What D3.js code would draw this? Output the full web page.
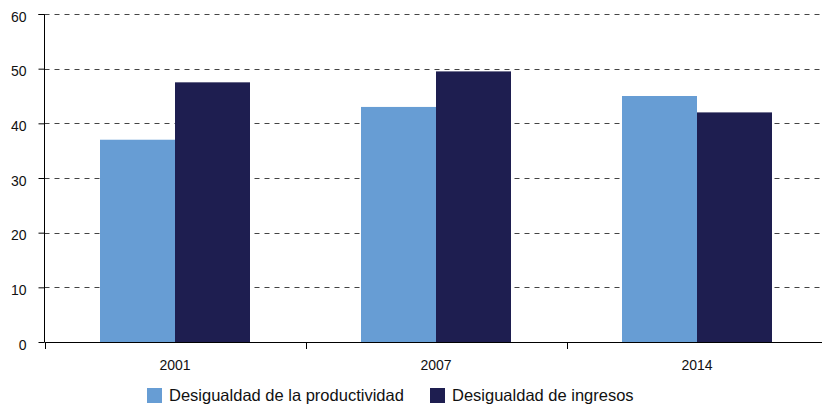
<!DOCTYPE html>
<html>
<head>
<meta charset="utf-8">
<script src="https://cdn.jsdelivr.net/npm/d3@7"></script>
<style>
  body { margin: 0; background: #fff; }
  text { font-family: "Liberation Sans", Arial, sans-serif; fill: #111; }
</style>
</head>
<body>
<svg id="chart"></svg>
<script>
// datos
const years = ['2001', '2007', '2014'];
const seriesNames = ['Desigualdad de la productividad', 'Desigualdad de ingresos'];
const productividad = [37, 43, 45];
const ingresos = [47.5, 49.5, 42];
const yTicks = [0, 10, 20, 30, 40, 50, 60];
const colors = ['#679dd4', '#1e1e50'];

const width = 822, height = 405;
const marginLeft = 44.5, plotTop = 14, plotBottom = 342;
const bandW = 261;

const svg = d3.select('#chart')
  .attr('width', width)
  .attr('height', height);

const x = d3.scaleBand()
  .domain(years)
  .range([marginLeft, marginLeft + bandW * years.length]);

const y = d3.scaleLinear()
  .domain([0, 60])
  .range([plotBottom, plotTop]);

// lineas de cuadricula
svg.append('g')
  .selectAll('line')
  .data(yTicks.filter(d => d > 0))
  .enter().append('line')
  .attr('x1', marginLeft)
  .attr('x2', width)
  .attr('y1', d => Math.round(y(d)) + 0.5)
  .attr('y2', d => Math.round(y(d)) + 0.5)
  .attr('stroke', '#444')
  .attr('stroke-width', 1)
  .attr('stroke-dasharray', '5,5');

// barras
const barW = 75;
const series = [productividad, ingresos];
series.forEach((vals, i) => {
  svg.append('g')
    .selectAll('rect')
    .data(vals)
    .enter().append('rect')
    .attr('x', (d, j) => x(years[j]) + x.bandwidth() / 2 - barW + i * barW)
    .attr('width', barW)
    .attr('y', d => y(d))
    .attr('height', d => plotBottom - y(d))
    .attr('fill', colors[i]);
});

// eje y
const yAxis = svg.append('g')
  .attr('transform', `translate(${marginLeft},0)`)
  .call(d3.axisLeft(y).tickValues(yTicks).tickSize(6).tickPadding(12).tickFormat(d3.format('d')));
yAxis.select('.domain').attr('stroke', '#000').attr('d', `M-6,${plotTop + 0.5}H0V${plotBottom}`);
yAxis.selectAll('text').style('font-size', '14px').attr('dy', '0.5em');

// eje x
const xAxis = svg.append('g')
  .attr('transform', `translate(0,${plotBottom + 0.5})`)
  .call(d3.axisBottom(x).tickSize(0).tickPadding(20));
xAxis.select('.domain').remove();
xAxis.selectAll('text').style('font-size', '14px').attr('dy', '0.5em');
svg.append('line')
  .attr('x1', marginLeft).attr('x2', width)
  .attr('y1', plotBottom + 0.5).attr('y2', plotBottom + 0.5)
  .attr('stroke', '#000');
svg.append('g')
  .selectAll('line')
  .data(years)
  .enter().append('line')
  .attr('x1', d => Math.round(x(d)) + 0.5)
  .attr('x2', d => Math.round(x(d)) + 0.5)
  .attr('y1', plotBottom)
  .attr('y2', plotBottom + 7)
  .attr('stroke', '#000');

// leyenda
const legendX = [147, 430];
const legend = svg.append('g')
  .selectAll('g')
  .data(seriesNames)
  .enter().append('g')
  .attr('transform', (d, i) => `translate(${legendX[i]},388)`);
legend.append('rect')
  .attr('width', 15).attr('height', 15)
  .attr('fill', (d, i) => colors[i]);
legend.append('text')
  .attr('x', 22).attr('y', 13)
  .style('font-size', '16.5px')
  .text(d => d);
</script>
</body>
</html>
